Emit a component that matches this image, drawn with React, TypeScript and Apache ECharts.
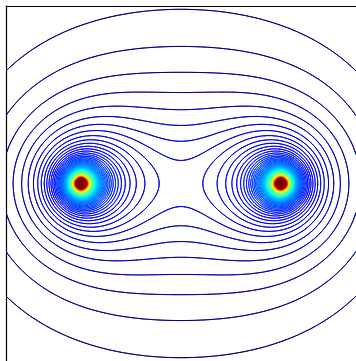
import React, { useEffect, useRef } from 'react';
import * as echarts from 'echarts';

// Two equal sources; the plotted field is 1 / (r1 * r2) (Cassini-oval contours)
const CHARGE_X = [-1, 1];
const CHARGE_Y = [0, 0];
const X_RANGE = [-1.75, 1.75];
const Y_RANGE = [-1.765, 1.765];
// contour levels
const LEVEL_FIRST = 0.25;
const LEVEL_STEP = 0.1;
const LEVEL_LAST = 40;
// colour scale (jet) range
const COLOR_RANGE = [0.25, 10];
const GRID_CELLS = 320;

const LEVELS: number[] = [];
for (let k = 0; LEVEL_FIRST + k * LEVEL_STEP <= LEVEL_LAST + 1e-9; k++) {
  LEVELS.push(+(LEVEL_FIRST + k * LEVEL_STEP).toFixed(4));
}

function field(x: number, y: number): number {
  let p = 1;
  for (let i = 0; i < CHARGE_X.length; i++) p *= Math.hypot(x - CHARGE_X[i], y - CHARGE_Y[i]);
  return p < 1e-8 ? 1e8 : 1 / p;
}

const JET_R = [[0, 0], [0.35, 0], [0.66, 1], [0.89, 1], [1, 0.5]];
const JET_G = [[0, 0], [0.125, 0], [0.375, 1], [0.64, 1], [0.91, 0], [1, 0]];
const JET_B = [[0, 0.5], [0.11, 1], [0.34, 1], [0.65, 0], [1, 0]];
function interp(tab: number[][], t: number) {
  for (let i = 1; i < tab.length; i++) {
    if (t <= tab[i][0]) {
      const [x0, y0] = tab[i - 1];
      const [x1, y1] = tab[i];
      return y0 + ((t - x0) / (x1 - x0)) * (y1 - y0);
    }
  }
  return tab[tab.length - 1][1];
}
function jet(v: number) {
  let t = (v - COLOR_RANGE[0]) / (COLOR_RANGE[1] - COLOR_RANGE[0]);
  t = Math.max(0, Math.min(1, t));
  const r = Math.round(interp(JET_R, t) * 255);
  const g = Math.round(interp(JET_G, t) * 255);
  const b = Math.round(interp(JET_B, t) * 255);
  return `rgb(${r},${g},${b})`;
}

function computeContours(): number[][] {
  const nx = GRID_CELLS, ny = GRID_CELLS;
  const hx = (X_RANGE[1] - X_RANGE[0]) / nx;
  const hy = (Y_RANGE[1] - Y_RANGE[0]) / ny;
  const W = nx + 1;
  const lv = new Float64Array((nx + 1) * (ny + 1));
  for (let j = 0; j <= ny; j++) {
    for (let i = 0; i <= nx; i++) {
      lv[j * W + i] = Math.log(field(X_RANGE[0] + i * hx, Y_RANGE[0] + j * hy));
    }
  }
  const logLevels = LEVELS.map((l) => Math.log(l));
  const segs: number[][] = LEVELS.map(() => []);
  const n = LEVELS.length;
  const px = [0, 0, 0, 0], py = [0, 0, 0, 0], has = [false, false, false, false];
  for (let j = 0; j < ny; j++) {
    const y0 = Y_RANGE[0] + j * hy, y1 = y0 + hy;
    for (let i = 0; i < nx; i++) {
      const x0 = X_RANGE[0] + i * hx, x1 = x0 + hx;
      const a = lv[j * W + i], b = lv[j * W + i + 1];
      const c = lv[(j + 1) * W + i + 1], d = lv[(j + 1) * W + i];
      const mn = Math.min(a, b, c, d), mx = Math.max(a, b, c, d);
      const vmn = Math.exp(mn), vmx = Math.exp(mx);
      let k0 = Math.ceil((vmn - LEVEL_FIRST) / LEVEL_STEP) - 1;
      let k1 = Math.floor((vmx - LEVEL_FIRST) / LEVEL_STEP) + 1;
      if (k0 < 0) k0 = 0;
      if (k1 > n - 1) k1 = n - 1;
      for (let k = k0; k <= k1; k++) {
        const L = logLevels[k];
        if (L < mn || L >= mx) continue;
        const aa = a >= L, bb = b >= L, cc = c >= L, dd = d >= L;
        let cnt = 0;
        has[0] = has[1] = has[2] = has[3] = false;
        if (aa !== bb) { const t = (L - a) / (b - a); px[0] = x0 + t * hx; py[0] = y0; has[0] = true; cnt++; }
        if (bb !== cc) { const t = (L - b) / (c - b); px[1] = x1; py[1] = y0 + t * hy; has[1] = true; cnt++; }
        if (dd !== cc) { const t = (L - d) / (c - d); px[2] = x0 + t * hx; py[2] = y1; has[2] = true; cnt++; }
        if (aa !== dd) { const t = (L - a) / (d - a); px[3] = x0; py[3] = y0 + t * hy; has[3] = true; cnt++; }
        const s = segs[k];
        if (cnt === 2) {
          const idx: number[] = [];
          for (let e = 0; e < 4; e++) if (has[e]) idx.push(e);
          s.push(px[idx[0]], py[idx[0]], px[idx[1]], py[idx[1]]);
        } else if (cnt === 4) {
          const center = (a + b + c + d) / 4 >= L;
          if (aa === center) {
            s.push(px[0], py[0], px[1], py[1], px[2], py[2], px[3], py[3]);
          } else {
            s.push(px[3], py[3], px[0], py[0], px[1], py[1], px[2], py[2]);
          }
        }
      }
    }
  }
  return segs;
}

const SEGS = computeContours();

export default function App() {
  const ref = useRef<HTMLDivElement>(null);
  useEffect(() => {
    if (!ref.current) return;
    const chart = echarts.init(ref.current, undefined, { renderer: 'svg' });
    const axisCommon = {
      type: 'value' as const,
      axisLine: { show: true, onZero: false, lineStyle: { color: '#000', width: 1.2 } },
      axisTick: { show: false },
      axisLabel: { show: false },
      splitLine: { show: false },
    };
    chart.setOption({
      animation: false,
      backgroundColor: '#fff',
      grid: { left: 6, top: 6, width: 352, height: 355.5 },
      xAxis: { ...axisCommon, min: X_RANGE[0], max: X_RANGE[1], position: 'top' },
      yAxis: { ...axisCommon, min: Y_RANGE[0], max: Y_RANGE[1], position: 'left' },
      series: [
        {
          type: 'custom',
          coordinateSystem: 'cartesian2d',
          silent: true,
          clip: true,
          data: LEVELS.map((l) => [0, 0, l]),
          renderItem: (params: any, api: any) => {
            const k = params.dataIndex;
            const s = SEGS[k];
            if (!s || !s.length) return null;
            const parts: string[] = [];
            for (let m = 0; m < s.length; m += 4) {
              const p1 = api.coord([s[m], s[m + 1]]);
              const p2 = api.coord([s[m + 2], s[m + 3]]);
              parts.push(
                'M' + p1[0].toFixed(2) + ' ' + p1[1].toFixed(2) +
                'L' + p2[0].toFixed(2) + ' ' + p2[1].toFixed(2)
              );
            }
            return {
              type: 'path',
              shape: { pathData: parts.join('') },
              style: { fill: 'none', stroke: jet(LEVELS[k]), lineWidth: 1, lineCap: 'round' },
            };
          },
        },
      ],
    });
    return () => chart.dispose();
  }, []);
  return (
    <div
      ref={ref}
      style={{ position: 'absolute', left: 0, top: 0, width: 356, height: 361, background: '#fff' }}
    />
  );
}
